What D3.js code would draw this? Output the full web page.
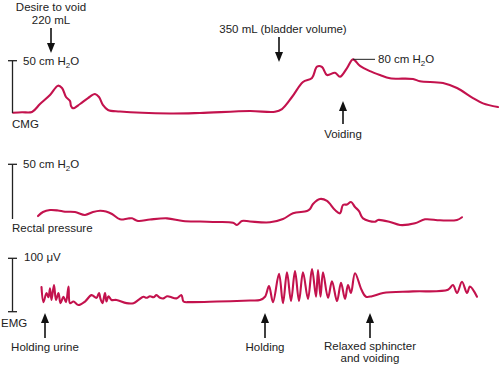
<!DOCTYPE html>
<html><head><meta charset="utf-8">
<script src="https://cdn.jsdelivr.net/npm/d3@7"></script>
<style>body{margin:0;background:#fff}text{font-family:"Liberation Sans",Arial,sans-serif;font-size:11.5px;fill:#222}</style>
</head><body><svg id="c" width="500" height="366"></svg>
<script>
// time (arbitrary units 0-100) and values
const cmgT = [2.6,4.4,6.4,8,10,11.6,12.4,13.2,14,14.2,14.6,16,17.6,19,19.8,20.6,21.6,24,34,40,50,55,56.4,58.4,60.6,62.4,63.4,64.4,65.4,67,68,69.4,70.6,72,74,76,78,82.6,84,88.6,91.4,94.6,96.6,99.6];
const cmgV = [0.3,0.7,1.0,8.6,17.2,26.1,23.9,15.3,11.5,6.7,4.5,8.6,14.3,18.2,15.3,7.6,2.9,1.4,-0.5,0,1.9,1.2,3.8,15.3,29.6,33.5,44.3,44,36.3,38.5,34.7,43,51.3,45,40,36.3,33.2,32.5,30.3,28.7,23.9,14.3,9.2,5.7];

const rectT = [7.6,8.6,10,11.6,13,15,17,18.6,20,21.2,22.4,24,25.6,26.4,27.6,30,33.4,36.6,40,43.4,46.6,47.4,48.4,50,54,56.6,58.6,61.4,62,62.6,64,65.4,67,68,68.6,69.4,70.2,71,71.8,72.6,75,75.6,78,80,83,85,88,91.4,92.4];
const rectV = [2.7,6.4,8.2,7.8,6.7,6.4,3.7,6.4,7.6,6.9,4.6,-0.3,0.5,0.6,-1.8,-0.5,0.6,-1.8,-2.3,-2.7,-3.4,-5.5,-1.8,-2.3,-3.0,0,5.2,7.3,9.1,13.7,18.3,16.5,8.2,5.2,12.8,13.3,15.5,11,7.3,0.6,-2.5,-0.9,-2.7,-5.5,-3.9,-0.3,-1.2,-0.9,1.6];

const emgT = [8.3,8.7,9.3,9.7,10,10.3,10.8,11.2,11.7,12.1,12.7,13.2,13.7,14,14.7,15.7,17,18.3,19.3,19.8,20.1,20.5,21,21.3,21.7,22.3,23.3,25.3,26.7,27.7,28.7,29.3,30,30.7,31.3,32,32.7,33.4,34,35.3,36.3,36.7,38,43.4,50,52,53,53.8,54.6,55.8,56.6,57.4,58.2,59,59.8,60.6,61.6,62.4,63.2,63.6,64.1,64.6,65.6,66.4,67.4,68.2,69,69.6,70.2,71,72.3,73.2,74.4,76.6,82.6,89.6,90.6,91.4,92.4,93.4,94,95.4];
const emgV = [46,18,35,27,44,22,50,22,35,16,28,18,47,16,19,12.5,19,31,26,35,24,16,35,19,29,22,22,16,16,22,28,26,29,27,31,26,25,29,28,25,31,19,18,19,21,22,28,48,18,71,16,74,20,76,20,74,24,80,28,78,28,74,26,57,20,54,24,50,35,72,41,28,29,35,38,41,50,35,56,35,47,28];

const cmgUnit = "50 cm H", rectUnit = "50 cm H", emgUnit = "100 μV";

const svg = d3.select("#c");
const red = "#c3124d";
const x = d3.scaleLinear().domain([0,100]).range([0,500]);
const yCmg = d3.scaleLinear().domain([0,50]).range([113,60.7]);
const yRect = d3.scaleLinear().domain([0,50]).range([219,164.3]);
const yEmg = d3.scaleLinear().domain([0,100]).range([311.7,258.3]);

function trace(T,V,y){
  const line = d3.line().x((d,i)=>x(T[i])).y(d=>y(d)).curve(d3.curveCatmullRom.alpha(0.5));
  svg.append("path").attr("d",line(V)).attr("fill","none").attr("stroke",red).attr("stroke-width",2.1).attr("stroke-linejoin","round").attr("stroke-linecap","round");
}
trace(cmgT,cmgV,yCmg); trace(rectT,rectV,yRect); trace(emgT,emgV,yEmg);

// scale bars
function bar(y, top, bottom, bottomTick){
  const g = svg.append("g").attr("stroke","#222").attr("stroke-width",1.3);
  g.append("line").attr("x1",12.5).attr("x2",12.5).attr("y1",y(top)).attr("y2",y(bottom));
  g.append("line").attr("x1",8).attr("x2",17).attr("y1",y(top)).attr("y2",y(top));
  if(bottomTick) g.append("line").attr("x1",8).attr("x2",17).attr("y1",y(bottom)).attr("y2",y(bottom));
}
bar(yCmg,50,0,false); bar(yRect,50,0,false); bar(yEmg,100,0,true);

function h2o(xp,yp,label){
  const t = svg.append("text").attr("x",xp).attr("y",yp);
  t.append("tspan").text(label);
  t.append("tspan").attr("font-size","8px").attr("dy",3).text("2");
  t.append("tspan").attr("dy",-3).text("O");
}
h2o(23,65,cmgUnit); h2o(23,168,rectUnit);
svg.append("text").attr("x",24).attr("y",261).text(emgUnit);
svg.append("text").attr("x",12).attr("y",128).text("CMG");
svg.append("text").attr("x",12).attr("y",232).text("Rectal pressure");
svg.append("text").attr("x",1).attr("y",327).text("EMG");

function arrow(xp, yTip, yTail, up){
  svg.append("line").attr("x1",xp).attr("x2",xp).attr("y1",yTail).attr("y2",up?yTip+6:yTip-6).attr("stroke","#111").attr("stroke-width",1.6);
  const d = up ? `M${xp},${yTip} L${xp-4},${yTip+10} L${xp+4},${yTip+10} Z` : `M${xp},${yTip} L${xp-4},${yTip-10} L${xp+4},${yTip-10} Z`;
  svg.append("path").attr("d",d).attr("fill","#111");
}
function ctext(xp,yp,s){ svg.append("text").attr("x",xp).attr("y",yp).attr("text-anchor","middle").text(s); }

ctext(51,11,"Desire to void"); ctext(51,24,"220 mL"); arrow(51,53,28,false);
ctext(283,33,"350 mL (bladder volume)"); arrow(279,62,37,false);
svg.append("line").attr("x1",x(70.6)).attr("x2",375).attr("y1",yCmg(51.3)).attr("y2",yCmg(51.3)).attr("stroke","#222").attr("stroke-width",1);
h2o(378,63,"80 cm H");
arrow(343,101,124,true); ctext(343,138,"Voiding");
arrow(45,313,338,true); ctext(45,351,"Holding urine");
arrow(265,313,338,true); ctext(265,351,"Holding");
arrow(370,313,338,true); ctext(370,350,"Relaxed sphincter"); ctext(370,362,"and voiding");
</script></body></html>
